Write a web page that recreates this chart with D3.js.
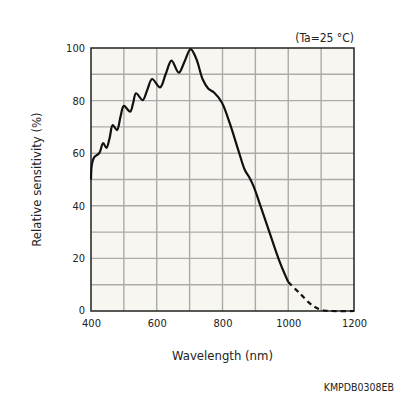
<!DOCTYPE html>
<html>
<head>
<meta charset="utf-8">
<script src="https://cdn.jsdelivr.net/npm/d3@7"></script>
<style>
  body { margin: 0; background: #fff; }
  text { font-family: "DejaVu Sans Condensed", "DejaVu Sans", sans-serif; fill: #222; }
</style>
</head>
<body>
<div id="chart"></div>
<script>
// measured curve (solid part)
const wavelength = [400, 403, 410, 425, 437, 447, 457, 466, 479, 490, 500, 519, 528, 537, 557, 571, 586, 610, 627, 645, 667, 685, 703, 720, 740, 757, 775, 798, 822, 848, 868, 883, 895, 910, 944, 974, 1000];
const sensitivity = [50, 56, 58.5, 60, 63.8, 62, 66, 70.7, 68.8, 74, 78, 75.8, 79, 82.8, 80.2, 84, 88.2, 85, 90, 95.2, 90.6, 95, 99.6, 96, 88, 84.5, 83, 79.3, 71.4, 61.2, 53.6, 50.5, 47.3, 42, 29.5, 18.7, 11];
// extrapolated part (dashed)
const wavelengthExt = [1000, 1035, 1075, 1105, 1130, 1200];
const sensitivityExt = [11, 6.7, 2, 0.3, 0, 0];

const xTicks = [400, 600, 800, 1000, 1200];
const yTicks = [0, 20, 40, 60, 80, 100];

const W = 396, H = 396;
const margin = {left: 91, right: 42, top: 48, bottom: 85};

const svg = d3.select('#chart').append('svg')
  .attr('width', W).attr('height', H);

const x = d3.scaleLinear().domain([400, 1200]).range([margin.left, W - margin.right]);
const y = d3.scaleLinear().domain([0, 100]).range([H - margin.bottom, margin.top]);

// plot background
svg.append('rect')
  .attr('x', x(400)).attr('y', y(100))
  .attr('width', x(1200) - x(400)).attr('height', y(0) - y(100))
  .attr('fill', '#f8f6f0');

// grid
const grid = svg.append('g');
grid.selectAll('.vg').data(d3.range(500, 1200, 100)).enter().append('line')
  .attr('x1', d => x(d)).attr('x2', d => x(d))
  .attr('y1', y(0)).attr('y2', y(100))
  .attr('stroke', '#ababab').attr('stroke-width', 1.4);
grid.selectAll('.hg').data(d3.range(10, 100, 10)).enter().append('line')
  .attr('x1', x(400)).attr('x2', x(1200))
  .attr('y1', d => y(d)).attr('y2', d => y(d))
  .attr('stroke', '#ababab').attr('stroke-width', 1.4);

// frame
svg.append('rect')
  .attr('x', x(400)).attr('y', y(100))
  .attr('width', x(1200) - x(400)).attr('height', y(0) - y(100))
  .attr('fill', 'none').attr('stroke', '#222').attr('stroke-width', 1.5);

// curves
const line = d3.line()
  .x(d => x(d[0]))
  .y(d => y(d[1]))
  .curve(d3.curveCatmullRom.alpha(0.5));

svg.append('path')
  .datum(wavelength.map((w, i) => [w, sensitivity[i]]))
  .attr('fill', 'none').attr('stroke', '#111').attr('stroke-width', 2.2)
  .attr('d', line);

svg.append('path')
  .datum(wavelengthExt.map((w, i) => [w, sensitivityExt[i]]))
  .attr('fill', 'none').attr('stroke', '#111').attr('stroke-width', 2.2)
  .attr('stroke-dasharray', '5,4')
  .attr('d', line);

// axes
const xAxis = svg.append('g')
  .attr('transform', `translate(0,${y(0)})`)
  .call(d3.axisBottom(x).tickValues(xTicks).tickFormat(d3.format('d')).tickSize(0).tickPadding(8));
xAxis.select('.domain').remove();
xAxis.selectAll('text').style('font-size', '11px').attr('fill', '#222');

const yAxis = svg.append('g')
  .attr('transform', `translate(${x(400)},0)`)
  .call(d3.axisLeft(y).tickValues(yTicks).tickSize(0).tickPadding(6));
yAxis.select('.domain').remove();
yAxis.selectAll('text').style('font-size', '11px').attr('fill', '#222');
yAxis.selectAll('.tick').filter(d => d === 0).select('text').attr('dy', '0.2em');

// labels
svg.append('text')
  .attr('x', (x(400) + x(1200)) / 2).attr('y', 360)
  .attr('text-anchor', 'middle').style('font-size', '13px')
  .text('Wavelength (nm)');

svg.append('text')
  .attr('transform', `translate(41,${(y(0) + y(100)) / 2}) rotate(-90)`)
  .attr('text-anchor', 'middle').style('font-size', '13px')
  .text('Relative sensitivity (%)');

svg.append('text')
  .attr('x', x(1200)).attr('y', 42)
  .attr('text-anchor', 'end').style('font-size', '12px')
  .text('(Ta=25 °C)');

svg.append('text')
  .attr('x', 394).attr('y', 391)
  .attr('text-anchor', 'end').style('font-size', '10.5px')
  .text('KMPDB0308EB');
</script>
</body>
</html>
